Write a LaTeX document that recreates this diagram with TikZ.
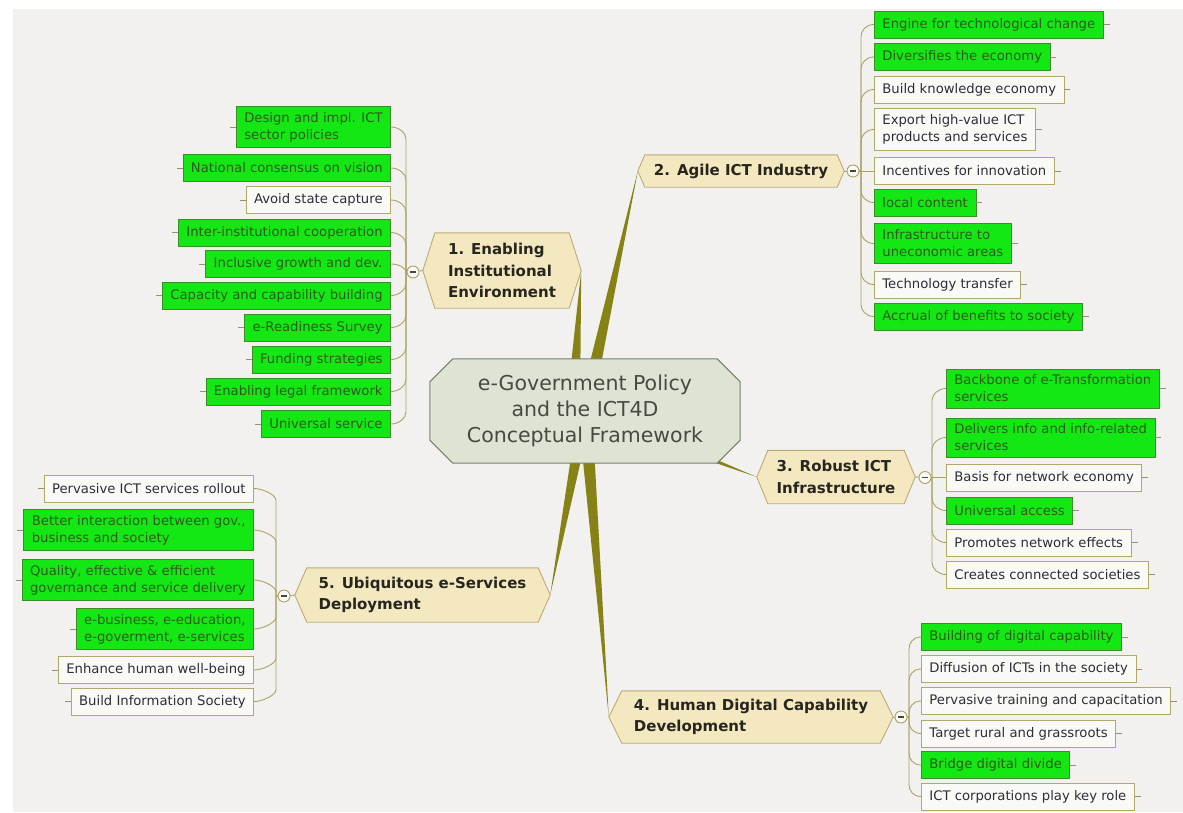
\documentclass[tikz,border=0pt]{standalone}
\usepackage{fontspec}
\setmainfont{DejaVu Sans}
\usetikzlibrary{calc}
\definecolor{bgc}{RGB}{242,241,239}
\definecolor{wedgec}{RGB}{134,130,22}
\definecolor{connc}{RGB}{170,162,100}
\definecolor{tickc}{RGB}{150,144,110}
\definecolor{greenf}{RGB}{20,232,20}
\definecolor{greend}{RGB}{62,140,40}
\definecolor{greent}{RGB}{45,90,25}
\definecolor{whitef}{RGB}{249,249,246}
\definecolor{whited}{RGB}{178,168,104}
\definecolor{whitet}{RGB}{45,45,58}
\definecolor{branchf}{RGB}{243,232,192}
\definecolor{branchd}{RGB}{186,172,118}
\definecolor{brancht}{RGB}{38,38,30}
\definecolor{centf}{RGB}{221,228,212}
\definecolor{centd}{RGB}{120,126,108}
\definecolor{centt}{RGB}{72,74,66}
\definecolor{knobm}{RGB}{70,70,60}
\pgfdeclarelayer{bglayer}
\pgfdeclarelayer{wedgelayer}
\pgfdeclarelayer{shapelayer}
\pgfsetlayers{bglayer,wedgelayer,shapelayer,main}
\newcommand{\hexshape}[2]{\filldraw[branchshape] (#1.north west) -- (#1.north east) -- ($(#1.east)+(#2,0)$) -- (#1.south east) -- (#1.south west) -- ($(#1.west)+(-#2,0)$) -- cycle;}
\newcommand{\wedgeto}[2]{\fill[wedgec] ($(#1)!7pt!90:(#2)$) -- (#2) -- ($(#1)!7pt!-90:(#2)$) -- cycle;}
\begin{document}
\begin{tikzpicture}[x=1pt,y=-1pt,
 leafbase/.style={rectangle, line width=0.8pt, inner xsep=8pt, inner ysep=6pt, minimum height=27pt, align=left, font=\fontsize{13.2}{17}\selectfont},
 leafg/.style={leafbase, fill=greenf, draw=greend, text=greent},
 leafw/.style={leafbase, fill=whitef, draw=whited, text=whitet},
 branchbox/.style={rectangle, inner sep=0pt, align=left, text=brancht, font=\fontsize{15}{21.5}\selectfont\bfseries},
 branchshape/.style={fill=branchf, draw=branchd, line width=0.9pt},
 conn/.style={draw=connc, line width=0.9pt},
 tick/.style={draw=tickc, line width=0.8pt},
 knob/.style={circle, draw=connc, fill=whitef, line width=0.9pt, minimum size=12pt, inner sep=0pt},
]
\begin{pgfonlayer}{bglayer}
\fill[white] (0,0) rectangle (1183,812);
\fill[bgc] (13,9) rectangle (1183,812);
\end{pgfonlayer}
\useasboundingbox (0,0) rectangle (1183,812);

% central
\node[rectangle, minimum width=310pt, minimum height=104pt, inner sep=0pt, align=center, text=centt, font=\fontsize{20.5}{26}\selectfont] (c) at (585,411) {e-Government Policy\\and the ICT4D\\Conceptual Framework};

% branches
\node[branchbox, minimum width=134pt, minimum height=75pt] (b1) at (502,270.5) {1. Enabling\\Institutional\\Environment};
\node[branchbox, minimum width=192pt, minimum height=32pt] (b2) at (741,171) {2. Agile ICT Industry};
\node[branchbox, minimum width=136pt, minimum height=53pt] (b3) at (836,477) {3. Robust ICT\\Infrastructure};
\node[branchbox, minimum width=258pt, minimum height=52pt] (b4) at (751,717) {4. Human Digital Capability\\Development};
\node[branchbox, minimum width=231pt, minimum height=54pt] (b5) at (422.5,595) {5. Ubiquitous e-Services\\Deployment};

\coordinate (b1R) at ($(b1.east)+(12,0)$);
\coordinate (b1L) at ($(b1.west)+(-12,0)$);
\coordinate (b2R) at ($(b2.east)+(7,0)$);
\coordinate (b2L) at ($(b2.west)+(-7,0)$);
\coordinate (b3R) at ($(b3.east)+(11,0)$);
\coordinate (b3L) at ($(b3.west)+(-11,0)$);
\coordinate (b4R) at ($(b4.east)+(13,0)$);
\coordinate (b4L) at ($(b4.west)+(-13,0)$);
\coordinate (b5R) at ($(b5.east)+(12,0)$);
\coordinate (b5L) at ($(b5.west)+(-12,0)$);
\coordinate (o) at (c.center);
\coordinate (o1) at ($(c.center)+(-12,0)$);

\begin{pgfonlayer}{wedgelayer}
\wedgeto{o1}{b1R}
\wedgeto{o}{b2L}
\wedgeto{o}{b3L}
\wedgeto{o}{b4L}
\wedgeto{o}{b5R}
\end{pgfonlayer}

\begin{pgfonlayer}{shapelayer}
\filldraw[fill=centf, draw=centd, line width=1pt] ($(c.north west)+(23,0)$) -- ($(c.north east)+(-23,0)$) -- ($(c.north east)+(0,23)$) -- ($(c.south east)+(0,-23)$) -- ($(c.south east)+(-23,0)$) -- ($(c.south west)+(23,0)$) -- ($(c.south west)+(0,-23)$) -- ($(c.north west)+(0,23)$) -- cycle;
\hexshape{b1}{12}
\hexshape{b2}{7}
\hexshape{b3}{11}
\hexshape{b4}{13}
\hexshape{b5}{12}
\end{pgfonlayer}

% knobs
\node[knob] (k1) at (413,272) {};
\node[knob] (k2) at (853,171) {};
\node[knob] (k3) at (925,477.5) {};
\node[knob] (k4) at (901,717) {};
\node[knob] (k5) at (284,596) {};
\coordinate (s1) at (406,272);
\coordinate (s2) at (861,171);
\coordinate (s3) at (932,477.5);
\coordinate (s4) at (909,717);
\coordinate (s5) at (276,596);
\draw[conn] (b1L) -- (k1);
\draw[conn] (b2R) -- (k2);
\draw[conn] (b3R) -- (k3);
\draw[conn] (b4R) -- (k4);
\draw[conn] (b5L) -- (k5);

% branch 1 leaves
\node[leafg, anchor=east] (a1) at (391,127) {Design and impl. ICT\\sector policies};
\node[leafg, anchor=east] (a2) at (391,168) {National consensus on vision};
\node[leafw, anchor=east] (a3) at (391,200) {Avoid state capture};
\node[leafg, anchor=east] (a4) at (391,232.5) {Inter-institutional cooperation};
\node[leafg, anchor=east] (a5) at (391,264) {Inclusive growth and dev.};
\node[leafg, anchor=east] (a6) at (391,295.5) {Capacity and capability building};
\node[leafg, anchor=east] (a7) at (391,327.5) {e-Readiness Survey};
\node[leafg, anchor=east] (a8) at (391,359.5) {Funding strategies};
\node[leafg, anchor=east] (a9) at (391,391.5) {Enabling legal framework};
\node[leafg, anchor=east] (a10) at (391,424) {Universal service};
\foreach \n/\d/\q in {a1/12/-6,a2/12/-6,a3/12/-6,a4/12/-6,a5/8/-4,a6/-12/6,a7/-12/6,a8/-12/6,a9/-12/6,a10/-12/6}{
 \draw[conn] (\n.east) .. controls +(8,0) and +(0,\q) .. ($(s1 |- \n.east)+(0,\d)$) -- (s1) -- (k1);
 \draw[tick] (\n.west) -- ++(-6,0);
}

% branch 2 leaves
\node[leafg, anchor=west] (e1) at (874,24.5) {Engine for technological change};
\node[leafg, anchor=west] (e2) at (874,57) {Diversifies the economy};
\node[leafw, anchor=west] (e3) at (874,89.5) {Build knowledge economy};
\node[leafw, anchor=west] (e4) at (874,129.5) {Export high-value ICT\\products and services};
\node[leafw, anchor=west] (e5) at (874,171) {Incentives for innovation};
\node[leafg, anchor=west] (e6) at (874,202.5) {local content};
\node[leafg, anchor=west] (e7) at (874,243.5) {Infrastructure to\\uneconomic areas};
\node[leafw, anchor=west] (e8) at (874,284.5) {Technology transfer};
\node[leafg, anchor=west] (e9) at (874,316.5) {Accrual of benefits to society};
\foreach \n/\d/\q in {e1/12/-6,e2/12/-6,e3/12/-6,e4/12/-6,e6/-12/6,e7/-12/6,e8/-12/6,e9/-12/6}{
 \draw[conn] (\n.west) .. controls +(-8,0) and +(0,\q) .. ($(s2 |- \n.west)+(0,\d)$) -- (s2) -- (k2);
}
\draw[conn] (e5.west) -- (k2);
\foreach \n in {e1,e2,e3,e4,e5,e6,e7,e8,e9}{\draw[tick] (\n.east) -- ++(6,0);}

% branch 3 leaves
\node[leafg, anchor=west] (r1) at (946,388.5) {Backbone of e-Transformation\\services};
\node[leafg, anchor=west] (r2) at (946,437.5) {Delivers info and info-related\\services};
\node[leafw, anchor=west] (r3) at (946,477.5) {Basis for network economy};
\node[leafg, anchor=west] (r4) at (946,510.5) {Universal access};
\node[leafw, anchor=west] (r5) at (946,542.5) {Promotes network effects};
\node[leafw, anchor=west] (r6) at (946,574.5) {Creates connected societies};
\foreach \n/\d/\q in {r1/12/-6,r2/12/-6,r4/-12/6,r5/-12/6,r6/-12/6}{
 \draw[conn] (\n.west) .. controls +(-8,0) and +(0,\q) .. ($(s3 |- \n.west)+(0,\d)$) -- (s3) -- (k3);
}
\draw[conn] (r3.west) -- (k3);
\foreach \n in {r1,r2,r3,r4,r5,r6}{\draw[tick] (\n.east) -- ++(6,0);}

% branch 4 leaves
\node[leafg, anchor=west] (h1) at (921,637) {Building of digital capability};
\node[leafw, anchor=west] (h2) at (921,669) {Diffusion of ICTs in the society};
\node[leafw, anchor=west] (h3) at (921,701) {Pervasive training and capacitation};
\node[leafw, anchor=west] (h4) at (921,733.5) {Target rural and grassroots};
\node[leafg, anchor=west] (h5) at (921,765) {Bridge digital divide};
\node[leafw, anchor=west] (h6) at (921,796.5) {ICT corporations play key role};
\foreach \n/\d/\q in {h1/12/-6,h2/12/-6,h3/12/-6,h4/-12/6,h5/-12/6,h6/-12/6}{
 \draw[conn] (\n.west) .. controls +(-8,0) and +(0,\q) .. ($(s4 |- \n.west)+(0,\d)$) -- (s4) -- (k4);
 \draw[tick] (\n.east) -- ++(6,0);
}

% branch 5 leaves
\node[leafw, anchor=east] (u1) at (254,488.5) {Pervasive ICT services rollout};
\node[leafg, anchor=east] (u2) at (254,530) {Better interaction between gov.,\\business and society};
\node[leafg, anchor=east] (u3) at (254,580) {Quality, effective \& efficient\\governance and service delivery};
\node[leafg, anchor=east] (u4) at (254,629) {e-business, e-education,\\e-goverment, e-services};
\node[leafw, anchor=east] (u5) at (254,670) {Enhance human well-being};
\node[leafw, anchor=east] (u6) at (254,701.5) {Build Information Society};
\foreach \n/\d/\q in {u1/12/-6,u2/12/-6,u3/12/-6,u4/-12/6,u5/-12/6,u6/-12/6}{
 \draw[conn] (\n.east) .. controls +(8,0) and +(0,\q) .. ($(s5 |- \n.east)+(0,\d)$) -- (s5) -- (k5);
 \draw[tick] (\n.west) -- ++(-6,0);
}

% knob minus signs
\foreach \k in {k1,k2,k3,k4,k5}{
 \draw[knobm, line width=1.5pt] ($(\k)+(-3,0)$) -- ($(\k)+(3,0)$);
}
\end{tikzpicture}
\end{document}
